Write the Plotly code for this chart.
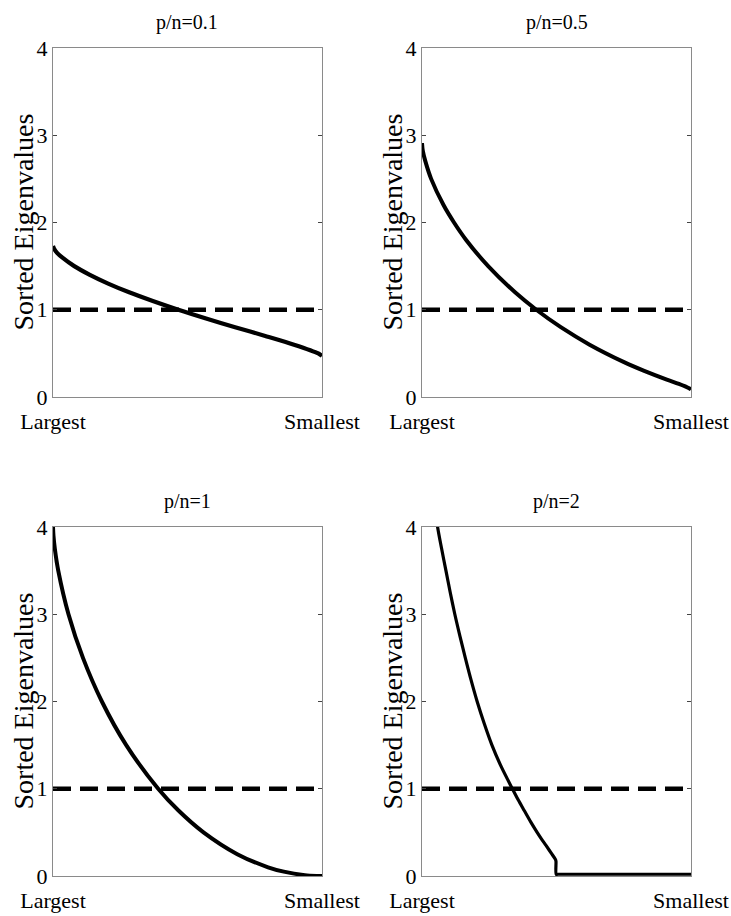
import plotly.graph_objects as go

# ---- data (rank fraction: 0 = largest, 1 = smallest) ----
titles = ["p/n=0.1", "p/n=0.5", "p/n=1", "p/n=2"]
x_ticklabels = ["Largest", "Smallest"]
y_ticks = [0, 1, 2, 3, 4]
y_title = "Sorted Eigenvalues"

rank_01 = [0, 0.004, 0.016, 0.034, 0.079, 0.137, 0.205, 0.283, 0.371, 0.466,
           0.569, 0.677, 0.789, 0.896, 0.986, 1.0]
eig_01 = [1.73, 1.70, 1.65, 1.60, 1.50, 1.40, 1.30, 1.20, 1.10, 1.00,
          0.90, 0.80, 0.70, 0.60, 0.50, 0.47]

rank_05 = [0, 0.003, 0.0126, 0.034, 0.08, 0.119, 0.164, 0.246, 0.346, 0.425, 0.516,
           0.623, 0.751, 0.826, 0.910, 0.955, 0.993, 1.0]
eig_05 = [2.91, 2.82, 2.70, 2.50, 2.20, 2.00, 1.80, 1.50, 1.20, 1.00, 0.80,
          0.60, 0.40, 0.30, 0.20, 0.15, 0.10, 0.086]

rank_1 = [0, 0.0017, 0.0068, 0.0195, 0.0576, 0.1114, 0.1817, 0.2722, 0.3910, 0.4664,
          0.5594, 0.6850, 0.7995, 0.8580, 0.9364, 0.9799, 1.0]
eig_1 = [4.0, 3.9, 3.75, 3.5, 3.0, 2.5, 2.0, 1.5, 1.0, 0.75,
         0.5, 0.25, 0.1, 0.05, 0.01, 0.001, 0.0]

rank_2 = [0, 0.018, 0.037, 0.058, 0.073, 0.089, 0.105, 0.122, 0.141, 0.161, 0.182,
          0.205, 0.231, 0.260, 0.295, 0.336, 0.358, 0.380, 0.404, 0.428, 0.445,
          0.461, 0.483, 0.496, 0.498, 0.499, 0.505, 0.995, 1.0]
eig_2 = [5.83, 5.0, 4.5, 4.0, 3.75, 3.5, 3.25, 3.0, 2.75, 2.5, 2.25,
         2.0, 1.75, 1.5, 1.25, 1.0, 0.87, 0.75, 0.62, 0.5, 0.42,
         0.35, 0.25, 0.19, 0.17, 0.02, 0.02, 0.02, 0.02]

ref_level = [1, 1]
ref_rank = [0, 1]

series = [(rank_01, eig_01, 4.2),
          (rank_05, eig_05, 4.0),
          (rank_1, eig_1, 4.0),
          (rank_2, eig_2, 3.2)]

# panel boxes in pixels (left, right, top, bottom) on a 731 x 916 canvas
W, H = 731, 916
boxes = [(53, 322, 48, 397), (422, 691, 48, 397), (53, 322, 527, 876), (422, 691, 527, 876)]

FONT = "Liberation Serif"
fig = go.Figure()
layout = dict(
    width=W, height=H, margin=dict(l=0, r=0, t=0, b=0, autoexpand=False),
    paper_bgcolor="white", plot_bgcolor="white", showlegend=False,
    annotations=[],
)

for i, ((xs, ys, lw), (l, r, t, b)) in enumerate(zip(series, boxes)):
    k = "" if i == 0 else str(i + 1)
    xa, ya = "x" + k, "y" + k
    fig.add_trace(go.Scatter(x=ref_rank, y=ref_level, mode="lines", xaxis=xa, yaxis=ya,
                             line=dict(color="black", width=4.5, dash="18px,9px")))
    fig.add_trace(go.Scatter(x=xs, y=ys, mode="lines", xaxis=xa, yaxis=ya,
                             line=dict(color="black", width=lw, shape="spline",
                                       smoothing=0.8)))
    layout["xaxis" + k] = dict(
        domain=[l / W, r / W], range=[0, 1], anchor=ya, automargin=False,
        tickvals=[0, 1], ticktext=x_ticklabels, ticks="", ticklabeloverflow="allow",
        ticklabelstandoff=5,
        showline=True, linecolor="#8a8a8a", linewidth=1, mirror=True,
        showgrid=False, zeroline=False, fixedrange=True,
        tickfont=dict(family=FONT, size=22, color="black"),
    )
    layout["yaxis" + k] = dict(
        domain=[1 - b / H, 1 - t / H], range=[0, 4], anchor=xa, automargin=False,
        tickvals=y_ticks, ticks="inside", ticklen=4, tickcolor="#444",
        ticklabeloverflow="allow",
        showline=True, linecolor="#8a8a8a", linewidth=1, mirror="ticks",
        showgrid=False, zeroline=False, fixedrange=True,
        tickfont=dict(family=FONT, size=22, color="black"),
    )
    # subplot title
    layout["annotations"].append(dict(
        text=titles[i], xref="paper", yref="paper", x=(l + r) / 2 / W, y=1 - (t - 26) / H,
        xanchor="center", yanchor="middle", showarrow=False,
        font=dict(family=FONT, size=20, color="black"),
    ))
    # y-axis title
    layout["annotations"].append(dict(
        text=y_title, xref="paper", yref="paper", x=(l - 30) / W, y=1 - (t + b) / 2 / H,
        xanchor="center", yanchor="middle", textangle=-90, showarrow=False,
        font=dict(family=FONT, size=28, color="black"),
    ))

fig.update_layout(**layout)
fig.write_html("out.html", post_script="document.body.style.margin='0';",
               config={"displayModeBar": False})
